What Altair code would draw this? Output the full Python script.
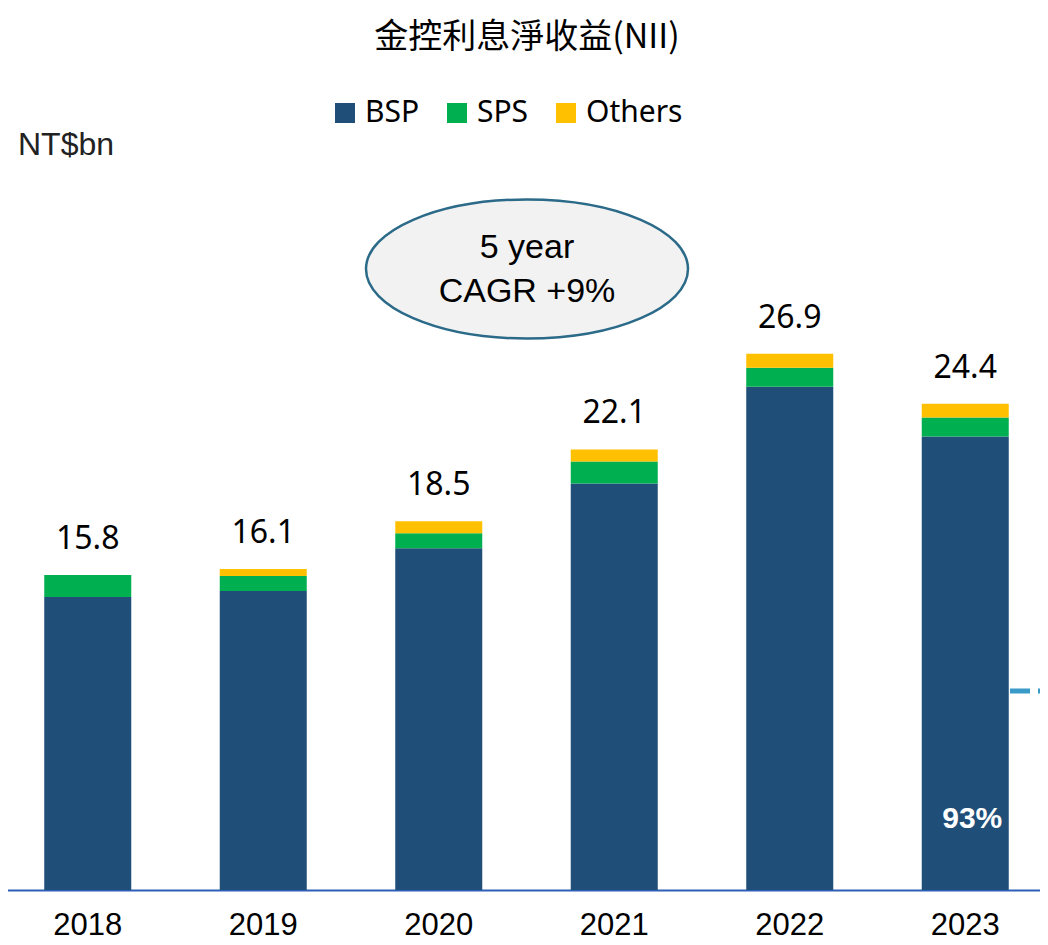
import altair as alt
import pandas as pd

years = ["2018", "2019", "2020", "2021", "2022", "2023"]
bsp = [14.7, 15.0, 17.15, 20.4, 25.25, 22.75]
sps = [1.1, 0.75, 0.75, 1.1, 0.95, 0.95]
others = [0.0, 0.35, 0.6, 0.6, 0.7, 0.7]
totals = [15.8, 16.1, 18.5, 22.1, 26.9, 24.4]
segments = ["BSP", "SPS", "Others"]
colors = ["#1f4e79", "#00b050", "#ffc000"]

rows = []
for i, y in enumerate(years):
    for k, (seg, vals) in enumerate(zip(segments, [bsp, sps, others])):
        rows.append({"year": y, "segment": seg, "value": vals[i], "ord": k})
df = pd.DataFrame(rows)
tot_df = pd.DataFrame({"year": years, "total": totals,
                       "label": [f"{t:.1f}" for t in totals]})
share_df = pd.DataFrame({"year": [years[-1]],
                         "share": [f"{round(bsp[-1] / totals[-1] * 100)}%"]})

xscale = alt.Scale(range=[-8, 1045], paddingInner=0, paddingOuter=0)
yscale = alt.Scale(domain=[0, 44.25], nice=False, zero=True)

xenc = alt.X("year:N", scale=xscale, sort=years,
             axis=alt.Axis(title=None, orient="bottom", domainColor="#2e5fb8",
                           domainWidth=2, ticks=False, tickSize=0,
                           labelFont="Liberation Sans", labelFontSize=31,
                           labelColor="#000000", labelPadding=20, labelAngle=0))

bars = alt.Chart(df).mark_bar(size=87).encode(
    x=xenc,
    y=alt.Y("value:Q", stack="zero", scale=yscale, axis=None),
    color=alt.Color("segment:N",
                    scale=alt.Scale(domain=segments, range=colors),
                    sort=segments,
                    legend=alt.Legend(title=None, orient="none", legendX=322,
                                      legendY=90, direction="horizontal",
                                      symbolType="square", symbolSize=400,
                                      symbolStrokeWidth=0,
                                      labelFont="Noto Sans", labelFontSize=30,
                                      labelColor="#000000", labelOffset=5,
                                      columnPadding=22, padding=0)),
    order=alt.Order("ord:Q"),
)

labels = alt.Chart(tot_df).mark_text(
    font="Noto Sans", fontSize=32, color="#000000", baseline="alphabetic",
    dy=-26
).encode(x=alt.X("year:N", scale=xscale, sort=years),
         y=alt.Y("total:Q", scale=yscale), text="label:N")

share = alt.Chart(share_df).mark_text(
    font="Liberation Sans", fontSize=30, fontWeight="bold", color="#ffffff",
    baseline="alphabetic", dx=7
).encode(x=alt.X("year:N", scale=xscale, sort=years),
         y=alt.value(820), text="share:N")

one = pd.DataFrame({"a": [1]})

title = alt.Chart(one).mark_text(
    font="Noto Sans CJK TC", fontSize=34, color="#000000", baseline="alphabetic"
).encode(x=alt.value(519), y=alt.value(40), text=alt.value("金控利息淨收益(NII)"))

unit = alt.Chart(one).mark_text(
    font="Liberation Sans", fontSize=32, color="#222222", align="left",
    baseline="alphabetic"
).encode(x=alt.value(10), y=alt.value(147), text=alt.value("NT$bn"))

ellipse = alt.Chart(one).mark_point(
    shape="M-1,0 A1,0.432 0 1,1 1,0 A1,0.432 0 1,1 -1,0 Z",
    size=322 * 322, filled=False, fill="#f2f2f2", fillOpacity=1,
    stroke="#2b6a88", strokeWidth=2.5, opacity=1
).encode(x=alt.value(519), y=alt.value(261))

e1 = alt.Chart(one).mark_text(
    font="Liberation Sans", fontSize=34, color="#000000", baseline="alphabetic"
).encode(x=alt.value(519), y=alt.value(250), text=alt.value("5 year"))

e2 = alt.Chart(one).mark_text(
    font="Liberation Sans", fontSize=34, color="#000000", baseline="alphabetic"
).encode(x=alt.value(519), y=alt.value(294), text=alt.value("CAGR +9%"))

dash = alt.Chart(one).mark_rule(
    color="#3a9bc9", strokeWidth=5, strokeDash=[20, 8]
).encode(x=alt.value(1002), x2=alt.value(1040), y=alt.value(683))

chart = alt.layer(bars, labels, share, title, unit, ellipse, e1, e2, dash).properties(
    width=1032, height=882,
    autosize=alt.AutoSizeParams(type="none"),
    padding={"left": 0, "top": 0, "right": 0, "bottom": 54},
    background="#ffffff",
).configure_view(stroke=None)

chart.save("out.html", embed_options={"renderer": "svg", "actions": False})
